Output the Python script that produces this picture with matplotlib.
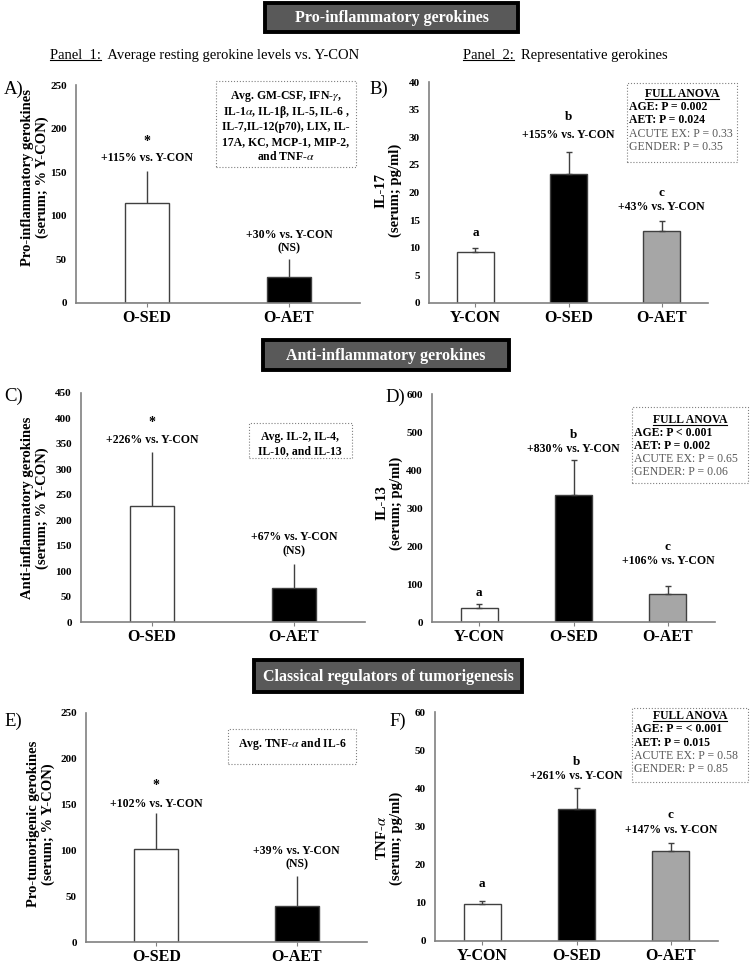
import matplotlib
matplotlib.use('Agg')
import matplotlib.pyplot as plt
import matplotlib.patches as mpatches
from matplotlib.lines import Line2D

plt.rcParams.update({
    'font.family': ['Liberation Serif', 'DejaVu Serif'],
    'mathtext.fontset': 'stix',
})

# ── Data ──────────────────────────────────────────────────────────────────────
groups_avg = ['O-SED', 'O-AET']
groups_rep = ['Y-CON', 'O-SED', 'O-AET']

pro_avg     = [115, 30]
pro_avg_err = [36, 20]
il17        = [9.2, 23.3, 13.1]
il17_err    = [0.7, 4.1, 1.7]

anti_avg     = [227, 67]
anti_avg_err = [108, 46]
il13         = [36, 335, 74]
il13_err     = [11, 92, 22]

tum_avg     = [102, 39]
tum_avg_err = [39, 33]
tnfa        = [9.6, 34.7, 23.7]
tnfa_err    = [1.0, 5.4, 2.0]

# ── Palette / layout ──────────────────────────────────────────────────────────
AVG_COLORS = ['white', 'black']
REP_COLORS = ['white', 'black', '#A6A6A6']
EDGE  = '#404040'
SPINE = '#808080'
W, H  = 750, 965

fig = plt.figure(figsize=(W / 100, H / 100), dpi=100, facecolor='white')


def px_axes(x0, y0, x1, y1):
    return fig.add_axes([x0 / W, 1 - y1 / H, (x1 - x0) / W, (y1 - y0) / H])


def ftext(x, y, s, **kw):
    return fig.text(x / W, 1 - y / H, s, **kw)


def title_box(x0, y0, x1, y1, label):
    fig.add_artist(mpatches.Rectangle(
        (x0 / W, 1 - y1 / H), (x1 - x0) / W, (y1 - y0) / H,
        transform=fig.transFigure, facecolor='#595959',
        edgecolor='black', linewidth=2.8))
    ftext((x0 + x1) / 2, (y0 + y1) / 2 + 1, label, ha='center', va='center',
          fontsize=11.5, fontweight='bold', color='white')


def dotted_box(x0, y0, x1, y1):
    fig.add_artist(mpatches.Rectangle(
        (x0 / W, 1 - y1 / H), (x1 - x0) / W, (y1 - y0) / H,
        transform=fig.transFigure, facecolor='white',
        edgecolor='#808080', linewidth=0.8, linestyle=':'))


def bar_panel(rect, cats, vals, errs, colors, ymax, ystep, width, cap):
    ax = px_axes(*rect)
    x = list(range(len(cats)))
    ax.bar(x, vals, width=width, color=colors, edgecolor=EDGE,
           linewidth=1.0, zorder=2)
    ax.errorbar(x, vals, yerr=[[0] * len(vals), errs], fmt='none',
                ecolor=EDGE, elinewidth=1.0, capsize=cap, capthick=1.0,
                zorder=3)
    ax.set_xlim(-0.5, len(cats) - 0.5)
    ax.set_ylim(0, ymax)
    ax.set_yticks(range(0, ymax + 1, ystep))
    ax.set_xticks(x)
    ax.set_xticklabels(cats, fontsize=11.5, fontweight='bold')
    for lab in ax.get_yticklabels():
        lab.set_fontweight('bold')
        lab.set_fontsize(8)
    ax.tick_params(axis='y', length=0, pad=6.5)
    ax.tick_params(axis='x', length=3, color=SPINE, pad=2)
    for s in ['top', 'right']:
        ax.spines[s].set_visible(False)
    for s in ['left', 'bottom']:
        ax.spines[s].set_color(SPINE)
        ax.spines[s].set_linewidth(1.2)
    ax.patch.set_alpha(0)
    return ax


def note(ax, x, y, s, size=8.5, weight='bold'):
    ax.text(x, y, s, ha='center', va='center', fontsize=size,
            fontweight=weight, zorder=4)


underline = []


def anova_box(x0, y0, x1, y1, lines_y, tx, age, aet, acute, gender):
    dotted_box(x0, y0, x1, y1)
    t = ftext((x0 + x1) / 2, lines_y[0], 'FULL ANOVA', ha='center',
              va='center', fontsize=8.5, fontweight='bold')
    underline.append(t)
    ftext(tx, lines_y[1], age, ha='left', va='center', fontsize=8.5,
          fontweight='bold')
    ftext(tx, lines_y[2], aet, ha='left', va='center', fontsize=8.5,
          fontweight='bold')
    ftext(tx, lines_y[3], acute, ha='left', va='center', fontsize=8.5,
          color='#595959')
    ftext(tx, lines_y[4], gender, ha='left', va='center', fontsize=8.5,
          color='#595959')


# ── Section titles and panel headers ──────────────────────────────────────────
title_box(265, 3, 518, 32, 'Pro-inflammatory gerokines')
title_box(263, 340, 509, 370, 'Anti-inflammatory gerokines')
title_box(254, 660, 522, 692, 'Classical regulators of tumorigenesis')

for x, y, head, rest in [
        (50, 55, 'Panel  1:', 'Average resting gerokine levels vs. Y-CON'),
        (463, 55, 'Panel  2:', 'Representative gerokines')]:
    ftext(x, y, head + '  ' + rest, ha='left', va='center', fontsize=10.5)
    # invisible copy of the head only, used to measure the underline
    underline.append(ftext(x, y, head, ha='left', va='center',
                           fontsize=10.5, alpha=0))

# ── Row 1 ─────────────────────────────────────────────────────────────────────
axA = bar_panel((76, 85, 360, 303), groups_avg, pro_avg, pro_avg_err,
                AVG_COLORS, 250, 50, 0.31, 0)
note(axA, 0, 185, '*', size=10)
note(axA, 0, 166, '+115% vs. Y-CON')
note(axA, 1, 78, '+30% vs. Y-CON')
note(axA, 1, 63, '(NS)')

axB = bar_panel((429, 82, 708, 303), groups_rep, il17, il17_err,
                REP_COLORS, 40, 5, 0.39, 2)
note(axB, 0, 12.7, 'a', size=9.5)
note(axB, 1, 33.7, 'b', size=9.5)
note(axB, 1, 30.4, '+155% vs. Y-CON')
note(axB, 2, 19.9, 'c', size=9.5)
note(axB, 2, 17.4, '+43% vs. Y-CON')

dotted_box(216, 81, 356, 167)
for yy, s in zip([97, 112, 127, 142, 156],
                 [r'Avg. GM-CSF, IFN-$\gamma$,',
                  r'IL-1$\alpha$, IL-1β, IL-5, IL-6 ,',
                  'IL-7,IL-12(p70), LIX, IL-',
                  '17A, KC, MCP-1, MIP-2,',
                  r'and TNF-$\alpha$']):
    ftext(286, yy, s, ha='center', va='center', fontsize=8.5,
          fontweight='bold')

anova_box(627, 83, 737, 162, [94, 107, 120, 134, 147], 629,
          'AGE: P = 0.002', 'AET: P = 0.024',
          'ACUTE EX: P = 0.33', 'GENDER: P = 0.35')

# ── Row 2 ─────────────────────────────────────────────────────────────────────
axC = bar_panel((81, 393, 365, 622), groups_avg, anti_avg, anti_avg_err,
                AVG_COLORS, 450, 50, 0.31, 0)
note(axC, 0, 393, '*', size=10)
note(axC, 0, 358, '+226% vs. Y-CON')
note(axC, 1, 168, '+67% vs. Y-CON')
note(axC, 1, 138, '(NS)')

axD = bar_panel((432, 394, 715, 622), groups_rep, il13, il13_err,
                REP_COLORS, 600, 100, 0.39, 2)
note(axD, 0, 76, 'a', size=9.5)
note(axD, 1, 492, 'b', size=9.5)
note(axD, 1, 455, '+830% vs. Y-CON')
note(axD, 2, 198, 'c', size=9.5)
note(axD, 2, 160, '+106% vs. Y-CON')

dotted_box(249, 423, 352, 458)
ftext(300, 437, 'Avg. IL-2, IL-4,', ha='center', va='center', fontsize=8.5,
      fontweight='bold')
ftext(300, 451, 'IL-10, and IL-13', ha='center', va='center', fontsize=8.5,
      fontweight='bold')

anova_box(632, 407, 748, 483, [420, 433, 446, 459, 472], 634,
          'AGE: P < 0.001', 'AET: P = 0.002',
          'ACUTE EX: P = 0.65', 'GENDER: P = 0.06')

# ── Row 3 ─────────────────────────────────────────────────────────────────────
axE = bar_panel((86, 713, 367, 942), groups_avg, tum_avg, tum_avg_err,
                AVG_COLORS, 250, 50, 0.31, 0)
note(axE, 0, 171, '*', size=10)
note(axE, 0, 151, '+102% vs. Y-CON')
note(axE, 1, 99, '+39% vs. Y-CON')
note(axE, 1, 85, '(NS)')

axF = bar_panel((435, 712, 718, 941), groups_rep, tnfa, tnfa_err,
                REP_COLORS, 60, 10, 0.39, 2)
note(axF, 0, 14.9, 'a', size=9.5)
note(axF, 1, 46.9, 'b', size=9.5)
note(axF, 1, 43.2, '+261% vs. Y-CON')
note(axF, 2, 33.0, 'c', size=9.5)
note(axF, 2, 29.1, '+147% vs. Y-CON')

dotted_box(228, 729, 356, 764)
ftext(292, 744, r'Avg. TNF-$\alpha$ and IL-6', ha='center', va='center',
      fontsize=8.5, fontweight='bold')

anova_box(632, 708, 748, 782, [716, 729, 743, 756, 769], 634,
          'AGE: P = < 0.001', 'AET: P = 0.015',
          'ACUTE EX: P = 0.58', 'GENDER: P = 0.85')

# ── Y labels and panel letters ────────────────────────────────────────────────
ylabels = [
    (35, 177, 'Pro-inflammatory gerokines\n(serum; % Y-CON)'),
    (388, 190, 'IL-17\n(serum; pg/ml)'),
    (35, 508, 'Anti-inflammatory gerokines\n(serum; % Y-CON)'),
    (389, 503, 'IL-13\n(serum; pg/ml)'),
    (41, 824, 'Pro-tumorigenic gerokines\n(serum; % Y-CON)'),
    (389, 838, 'TNF-$\\alpha$\n(serum; pg/ml)'),
]
for x, y, s in ylabels:
    ftext(x, y, s, ha='center', va='center', rotation=90, fontsize=10.5,
          fontweight='bold', multialignment='center', linespacing=1.1)

for x, y, s in [(4, 89, 'A)'), (369, 89, 'B)'), (4, 396, 'C)'),
                (385, 397, 'D)'), (4, 721, 'E)'), (389, 721, 'F)')]:
    ftext(x, y, s, ha='left', va='center', fontsize=13.5)

# underline headers
fig.canvas.draw()
r = fig.canvas.get_renderer()
inv = fig.transFigure.inverted()
for t in underline:
    bb = t.get_window_extent(r)
    (xa, ya), (xb, _) = inv.transform([(bb.x0, bb.y0), (bb.x1, bb.y0)])
    fig.add_artist(Line2D([xa, xb], [ya + 0.0012, ya + 0.0012],
                          transform=fig.transFigure, color='black', lw=0.8))

fig.savefig('out.png', dpi=100)
